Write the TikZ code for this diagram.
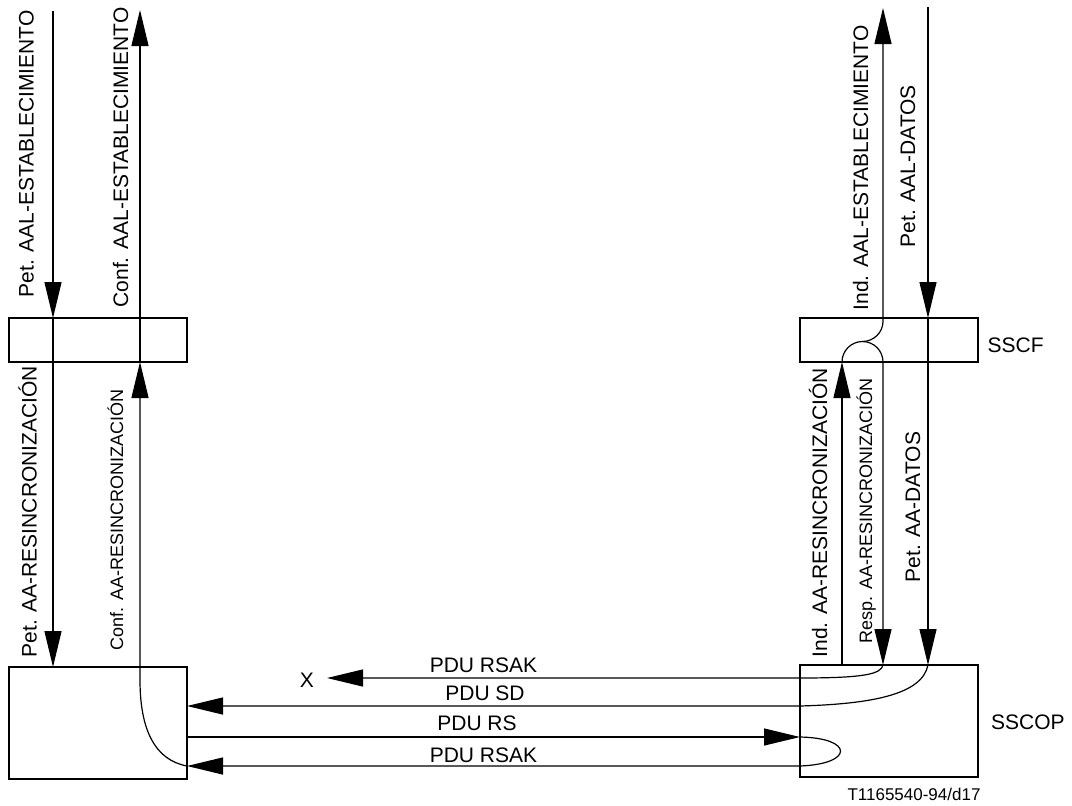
\documentclass[tikz,border=0pt]{standalone}
\usepackage{fontspec}
\setmainfont{Liberation Sans}
\usetikzlibrary{arrows.meta}
\begin{document}
\begin{tikzpicture}[x=0.5pt,y=-0.5pt,
  line width=0.6pt,
  box/.style={draw,inner sep=0pt,outer sep=0pt,minimum width=89pt},
  arr/.style={-{Triangle[length=18pt,width=8.5pt]}},
  big/.style={font=\fontsize{10.5pt}{12pt}\selectfont,inner sep=0pt},
  small/.style={font=\fontsize{9pt}{11pt}\selectfont,inner sep=0pt},
  vl/.style={rotate=90,anchor=base west}]
\useasboundingbox (0,0) rectangle (1072,805);
% boxes
\node[box,minimum height=22pt] (L1) at (98,340) {};
\node[box,minimum height=56pt] (L2) at (98,723) {};
\node[box,minimum height=22pt] (R1) at (889,340) {};
\node[box,minimum height=56pt] (R2) at (889,721) {};
% coordinates
\coordinate (aPet) at (53,11);
\coordinate (aConf) at (140,10);
\coordinate (c1) at (842,0);
\coordinate (aInd) at (883,8);
\coordinate (aDat) at (928,7);
\coordinate (archTop) at (862.5,341.5);
\coordinate (xTip) at (327,678);
\coordinate (r1) at (0,678);
\coordinate (r2) at (0,706);
\coordinate (r3) at (0,737);
\coordinate (r4) at (0,766);
% left side
\draw[arr] (aPet) -- (aPet |- L1.north);
\draw[arr] (aPet |- L1.north) -- (aPet |- L2.north);
\draw[arr] (L2.east |- r4) .. controls (155,760) and (140,730) .. (140,680) -- (aConf |- L1.south);
\draw[arr] (aConf |- L1.south) -- (aConf);
% right side
\draw[arr] (c1 |- R2.north) -- (c1 |- R1.south);
\draw[arr] (c1 |- R1.south) .. controls +(0,-11.3) and +(-11.3,0) .. (archTop)
  .. controls +(11.3,0) and +(0,-11.3) .. (aInd |- R1.south) -- (aInd |- R2.north);
\draw[arr] (archTop) .. controls +(11,0) and +(0,11) .. (883,321.5) -- (aInd);
\draw[arr] (aDat) -- (aDat |- R1.north);
\draw[arr] (aDat |- R1.north) -- (aDat |- R2.north);
% PDUs
\draw[arr] (aInd |- R2.north) .. controls (881,674) and (865,678) .. (R2.west |- r1) -- (xTip);
\draw[arr] (aDat |- R2.north) .. controls (922,695) and (870,704) .. (R2.west |- r2) -- (L2.east |- r2);
\draw[arr] (L2.east |- r3) -- (R2.west |- r3);
\draw[arr] (R2.west |- r3) .. controls +(54,1) and +(54,-2) .. (R2.west |- r4) -- (L2.east |- r4);
% vertical labels
\node[big,vl] (t1) at (33.5,298) {Pet. AAL-ESTABLECIMIENTO};
\node[big,vl] (t2) at (128,308) {Conf. AAL-ESTABLECIMIENTO};
\node[big,vl] (t3) at (36.5,658) {Pet. AA-RESINCRONIZACIÓN};
\node[small,vl] (t4) at (123,651) {Conf. AA-RESINCRONIZACIÓN};
\node[big,vl] (t5) at (868,311) {Ind. AAL-ESTABLECIMIENTO};
\node[big,vl] (t6) at (915,248) {Pet. AAL-DATOS};
\node[big,vl] (t7) at (827,658) {Ind. AA-RESINCRONIZACIÓN};
\node[small,vl] (t8) at (872,644) {Resp. AA-RESINCRONIZACIÓN};
\node[big,vl] (t9) at (920,583) {Pet. AA-DATOS};
% horizontal labels
\node[big,anchor=base] (p1) at (483.5,672) {PDU RSAK};
\node[big,anchor=base] (p2) at (485,700) {PDU SD};
\node[big,anchor=base] (p3) at (477,730) {PDU RS};
\node[big,anchor=base] (p4) at (483.5,762) {PDU RSAK};
\node[big,anchor=base] (xl) at (307,687) {X};
\node[big,anchor=base west] (sscf) at (987,352) {SSCF};
\node[big,anchor=base west] (sscop) at (990.5,729) {SSCOP};
\node[font=\fontsize{8.5pt}{10pt}\selectfont,inner sep=0pt,anchor=base] (ref) at (914,800) {T1165540-94/d17};
\end{tikzpicture}
\end{document}
